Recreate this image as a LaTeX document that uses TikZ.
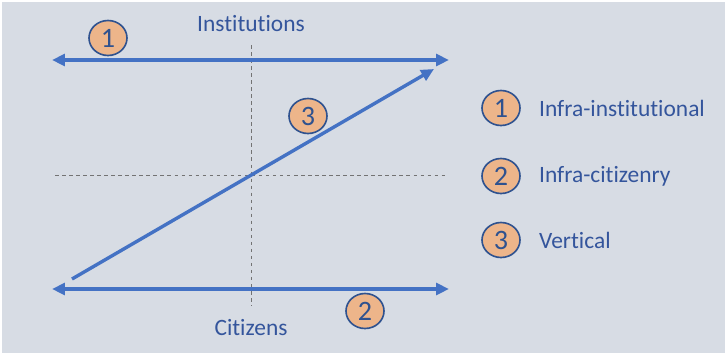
\documentclass[tikz,border=0pt]{standalone}
\usepackage{fontspec}
\setmainfont{Carlito}[Ligatures={NoCommon}]
\usetikzlibrary{arrows.meta, shapes.geometric}
\definecolor{bgcol}{HTML}{D7DCE4}
\definecolor{linecol}{HTML}{4472C4}
\definecolor{textcol}{HTML}{34559C}
\definecolor{badgecol}{HTML}{EDB58A}
\definecolor{rimcol}{HTML}{2F528F}
\begin{document}
\begin{tikzpicture}[x=0.03cm, y=-0.03cm, >={Triangle[length=11pt,width=10pt]}]
		\tikzstyle{badge} = [ellipse, draw=rimcol, line width=1.4pt, fill=badgecol, text=rimcol, minimum width=38*0.03cm, minimum height=35*0.03cm, inner sep=0pt, font=\fontsize{24}{24}\selectfont]
		\tikzstyle{label} = [text=textcol, font=\fontsize{20}{20}\selectfont]
		\tikzstyle{axis} = [draw=linecol, line width=2.9pt]
		\tikzstyle{guide} = [draw=black!55, dashed, line width=0.6pt]
		\fill[white] (0,0) rectangle (726,353);
		\fill[bgcol] (2,2) rectangle (725,353);
		\useasboundingbox (0,0) rectangle (726,353);
		% guide lines
		\coordinate (vt) at (251,45);
		\coordinate (vb) at (251,306);
		\coordinate (hl) at (55,175);
		\coordinate (hr) at (448,175);
		\path[guide] (vt) -- (vb);
		\path[guide] (hl) -- (hr);
		% the two horizontal levels and the diagonal
		\coordinate (tl) at (52,60);
		\coordinate (tr) at (449,60);
		\coordinate (bl) at (52,289);
		\coordinate (br) at (449,289);
		\coordinate (ds) at (72,279);
		\coordinate (de) at (434,69);
		\path[axis, <->] (tl) -- (tr);
		\path[axis, <->] (bl) -- (br);
		\path[axis, ->] (ds) -- (de);
		\node[label](inst) at (251,24) {Institutions};
		\node[label](citz) at (251,328) {Citizens};
		\node[badge](one) at (108,38) {1};
		\node[badge](two) at (365,311) {2};
		\node[badge](three) at (308,116) {3};
		% legend
		\node[badge](k1) at (501,108) {1};
		\node[badge](k2) at (501,176) {2};
		\node[badge](k3) at (501,240) {3};
		\node[label, anchor=west](t1) at (535,108) {Infra-institutional};
		\node[label, anchor=west](t2) at (535,176) {Infra-citizenry};
		\node[label, anchor=west](t3) at (535,240) {Vertical};
	\end{tikzpicture}
\end{document}
